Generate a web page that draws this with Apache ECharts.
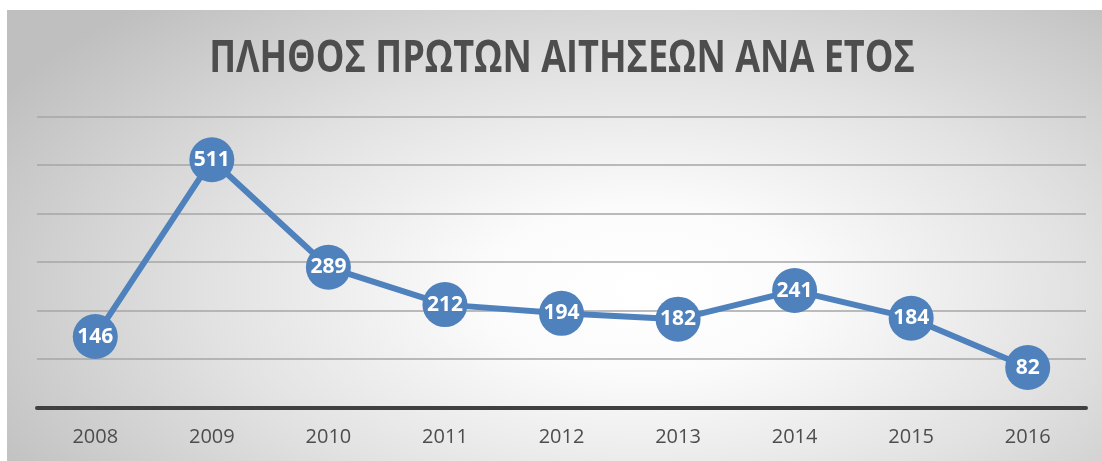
<!DOCTYPE html>
<html>
<head>
<meta charset="utf-8">
<script src="https://cdn.jsdelivr.net/npm/echarts@6/dist/echarts.min.js"></script>
<style>
html,body{margin:0;padding:0;background:#fff;}
#bg{position:absolute;left:7px;top:10px;width:1095px;height:451px;
background:radial-gradient(ellipse 68% 85% at 58% 62%, #ffffff 0%, #fbfbfb 22%, #e2e2e2 58%, #bfbfbf 100%);}
#main{position:absolute;left:0;top:0;width:1102px;height:461px;}
</style>
</head>
<body>
<div id="bg"></div>
<div id="main"></div>
<script>
const categories = ['2008','2009','2010','2011','2012','2013','2014','2015','2016'];
const values = [146, 511, 289, 212, 194, 182, 241, 184, 82];
const titleText = 'ΠΛΗΘΟΣ ΠΡΩΤΩΝ ΑΙΤΗΣΕΩΝ ΑΝΑ ΕΤΟΣ';

const chart = echarts.init(document.getElementById('main'), null, {renderer:'canvas'});
chart.setOption({
  backgroundColor: 'transparent',
  animation: false,
  graphic: [{
    type: 'text',
    x: 562,
    y: 59,
    scaleX: 0.82,
    style: {
      text: titleText,
      fontFamily: "'Open Sans', sans-serif",
      fontWeight: 'bold',
      fontSize: 44,
      fill: '#4d4d4d',
      align: 'center',
      verticalAlign: 'middle'
    }
  }],
  grid: {left: 37, right: 16, top: 116.7, bottom: 53.7},
  xAxis: {
    type: 'category',
    data: categories,
    boundaryGap: true,
    axisLine: {lineStyle: {color: '#404040', width: 4}},
    axisTick: {show: false},
    axisLabel: {color: '#4d4d4d', fontSize: 20, margin: 20, fontFamily: "'Open Sans', sans-serif"}
  },
  yAxis: {
    type: 'value',
    min: 0, max: 600, interval: 100,
    axisLine: {show: false},
    axisTick: {show: false},
    axisLabel: {show: false},
    splitLine: {lineStyle: {color: '#a6a6a6', width: 1.5}}
  },
  series: [{
    type: 'line',
    data: values,
    symbol: 'circle',
    symbolSize: 45,
    lineStyle: {color: '#4F81BD', width: 6},
    itemStyle: {color: '#4F81BD'},
    label: {
      show: true,
      position: 'inside',
      color: '#ffffff',
      fontWeight: 'bold',
      fontSize: 21,
      fontFamily: "'Open Sans', sans-serif"
    }
  }]
});
</script>
</body>
</html>
